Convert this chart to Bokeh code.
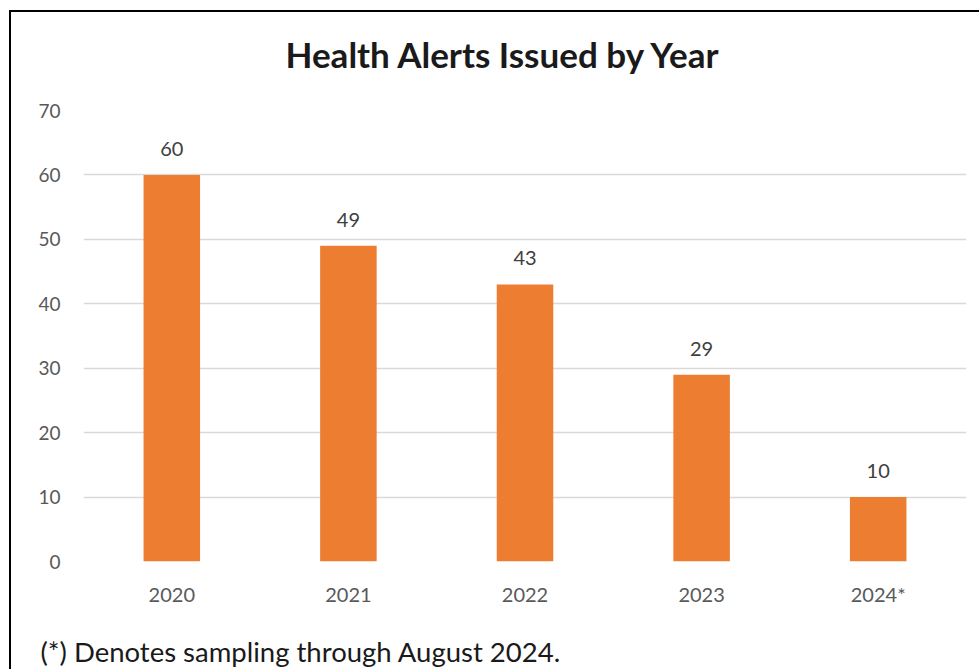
from bokeh.plotting import figure
from bokeh.models import ColumnDataSource, LabelSet, FixedTicker, FactorRange, Range1d, Title
from bokeh.core.properties import value
from bokeh.embed import file_html
from bokeh.resources import INLINE

# ---- data ----
years = ["2020", "2021", "2022", "2023", "2024*"]
alerts = [60, 49, 43, 29, 10]
y_ticks = [0, 10, 20, 30, 40, 50, 60, 70]
title_text = "Health Alerts Issued by Year"
footnote_text = "(*) Denotes sampling through August 2024."

BAR = "#ED7D31"
FONT = "Lato"

source = ColumnDataSource(dict(year=years, alerts=alerts,
                               label=[str(v) for v in alerts]))

p = figure(x_range=FactorRange(factors=years, range_padding=0),
           y_range=Range1d(0, 70),
           width=979, height=669, title=None,
           output_backend="svg", toolbar_location=None,
           min_border_left=83, min_border_right=13,
           min_border_top=110, min_border_bottom=108)

p.background_fill_color = None
p.border_fill_color = None
p.outline_line_color = None
p.styles = {"box-shadow": "inset 9px 10px 0 0 white, inset 11px 12px 0 0 black"}

p.vbar(x="year", top="alerts", width=0.32, source=source,
       fill_color=BAR, line_color=None)

labels = LabelSet(x="year", y="alerts", text="label", source=source,
                  y_offset=26, text_align="center", text_baseline="middle",
                  text_font=value(FONT), text_font_size=value("20px"),
                  text_color="#404040")
p.add_layout(labels)

# title (spacer nearest the frame, then the title)
p.add_layout(Title(text=" ", text_font_size="1px", standoff=33), "above")
p.add_layout(Title(text=title_text, text_font=FONT, text_font_style="bold",
                   text_font_size="35px", text_color="#1a1a1a",
                   align="left", offset=202, standoff=0), "above")

# axes
for ax in (p.xaxis[0], p.yaxis[0]):
    ax.axis_line_color = None
    ax.major_tick_line_color = None
    ax.minor_tick_line_color = None
    ax.major_tick_out = 0
    ax.major_tick_in = 0
    ax.major_label_text_font = FONT
    ax.major_label_text_color = "#595959"
p.xaxis.major_label_text_font_size = "20px"
p.yaxis.major_label_text_font_size = "19px"
p.xaxis.major_label_standoff = 20
p.yaxis.major_label_standoff = 23
p.yaxis.ticker = FixedTicker(ticks=y_ticks)

p.xgrid.grid_line_color = None
p.ygrid.ticker = FixedTicker(ticks=y_ticks)
p.ygrid.grid_line_color = "#d9d9d9"
p.ygrid.grid_line_width = 1.5

# footnote (spacer below the axis, then the note)
p.add_layout(Title(text=" ", text_font_size="1px", standoff=21), "below")
p.add_layout(Title(text=footnote_text, align="left", offset=-43, standoff=0,
                   text_font=FONT, text_font_size="27.5px",
                   text_font_style="normal", text_color="#1a1a1a"), "below")

open("out.html", "w").write(file_html(p, INLINE))
